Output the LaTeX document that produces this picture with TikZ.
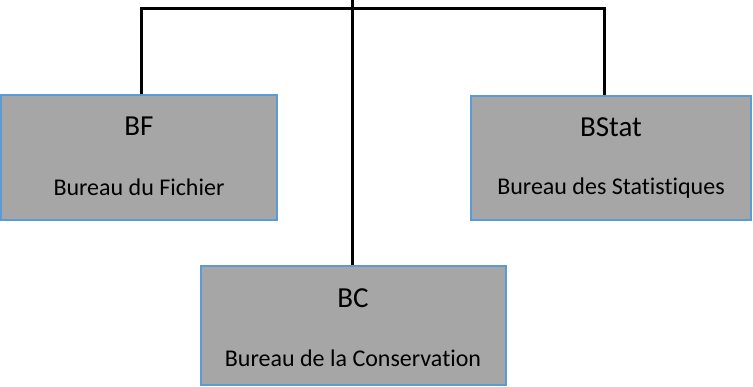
\documentclass[tikz,border=0pt]{standalone}
\usepackage{fontspec}
\setmainfont{Carlito}[Ligatures=NoCommon]
\usepackage{tikz}

\definecolor{officeedge}{RGB}{91,155,213}
\definecolor{officefill}{RGB}{166,166,166}
\tikzset{
  office/.style={draw=officeedge, line width=2pt, fill=officefill,
    inner sep=0pt},
  abbr/.style={font=\fontsize{29}{33}\selectfont, inner sep=0pt},
  fullname/.style={font=\fontsize{24}{28}\selectfont, inner sep=0pt},
  link/.style={line width=3pt}
}

\begin{document}
\begin{tikzpicture}[x=1pt,y=1pt]
      \useasboundingbox (0,0) rectangle (753,386);
      % offices
      \node [office, minimum width=276pt, minimum height=125pt] (BF) at (139,228) {};
      \node [office, minimum width=280pt, minimum height=124pt] (BStat) at (611,227.5) {};
      \node [office, minimum width=305pt, minimum height=118pt] (BC) at (353,60.5) {};
      \node [abbr] (BFabbr) at ([yshift=-32pt]BF.north) {BF};
      \node [fullname] (BFname) at ([yshift=-93pt]BF.north) {Bureau du Fichier};
      \node [abbr] (BStatabbr) at ([yshift=-32pt]BStat.north) {BStat};
      \node [fullname] (BStatname) at ([yshift=-93pt]BStat.north) {Bureau des Statistiques};
      \node [abbr] (BCabbr) at ([yshift=-33pt]BC.north) {BC};
      \node [fullname] (BCname) at ([yshift=-93pt]BC.north) {Bureau de la Conservation};
      % links
      \coordinate (top) at (352,386);
      \coordinate (bar) at (0,377);
      \coordinate (BFin) at ([xshift=2pt]BF.north);
      \coordinate (BStatin) at ([xshift=-7pt]BStat.north);
      \draw [link] (top) -- (top |- BC.north);
      \draw [link] (BFin) |- (bar -| BStatin) -- (BStatin);
\end{tikzpicture}
\end{document}
